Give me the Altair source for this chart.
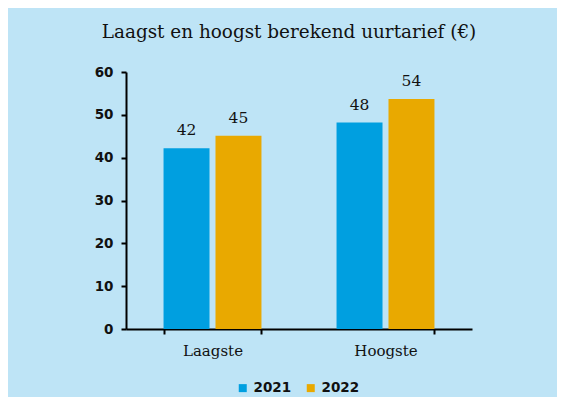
import altair as alt
import pandas as pd

categories = ["Laagste", "Hoogste"]
years = ["2021", "2022"]
values_2021 = [42.2, 48.2]
values_2022 = [45.1, 53.7]
y_ticks = [0, 10, 20, 30, 40, 50, 60]
title_text = "Laagst en hoogst berekend uurtarief (€)"

rows = []
for i, c in enumerate(categories):
    rows.append({"cat": c, "year": years[0], "value": values_2021[i]})
    rows.append({"cat": c, "year": years[1], "value": values_2022[i]})
df = pd.DataFrame(rows)

BG = "#BEE4F6"
SERIF = "DejaVu Serif"
SANS = "DejaVu Sans"
INK = "#111111"

x = alt.X("cat:N", sort=categories, title=None,
          scale=alt.Scale(paddingInner=0.434, paddingOuter=0.217),
          axis=alt.Axis(labelAngle=0, labelFont=SERIF, labelFontSize=15,
                        labelColor=INK, labelPadding=9,
                        tickBand="extent", tickSize=5, tickWidth=2, tickColor="black",
                        domainColor="black", domainWidth=2, grid=False))
xo = alt.XOffset("year:N", sort=years,
                 scale=alt.Scale(paddingInner=0.115, paddingOuter=0))
y = alt.Y("value:Q", title=None,
          scale=alt.Scale(domain=[0, 60], nice=False),
          axis=alt.Axis(values=y_ticks, labelFont=SANS, labelFontSize=13.5,
                        labelFontWeight="bold",
                        labelColor=INK, labelPadding=8,
                        tickSize=5, tickWidth=2, tickColor="black",
                        domainColor="black", domainWidth=2, grid=False))
color = alt.Color("year:N", sort=years,
                  scale=alt.Scale(domain=years, range=["#009FE0", "#E9A900"]),
                  legend=alt.Legend(title=None, orient="none", direction="horizontal",
                                    legendX=110, legendY=309,
                                    symbolType="square", symbolSize=64,
                                    symbolStrokeWidth=0,
                                    labelFont=SANS, labelFontSize=13.5,
                                    labelFontWeight="bold",
                                    labelColor=INK, columnPadding=12,
                                    labelOffset=4))

base = alt.Chart(df)
bars = base.mark_bar().encode(x=x, xOffset=xo, y=y, color=color)
labels = base.mark_text(font=SERIF, fontSize=15.5, dy=-10,
                        baseline="bottom", color=INK).encode(
    x=alt.X("cat:N", sort=categories), xOffset=alt.XOffset("year:N", sort=years),
    y="value:Q", text=alt.Text("value:Q", format=".0f"))

chart = (bars + labels).properties(
    width=346, height=257,
    title=alt.TitleParams(title_text, font=SERIF, fontSize=18.4, fontWeight="normal",
                          color=INK, anchor="middle", dx=-10, offset=24),
    background=BG,
    padding={"left": 118, "top": 64, "right": 85, "bottom": 68},
    autosize=alt.AutoSizeParams(type="none"),
).configure_view(stroke=None)

chart.save("out.html", embed_options={"renderer": "svg", "actions": False})
